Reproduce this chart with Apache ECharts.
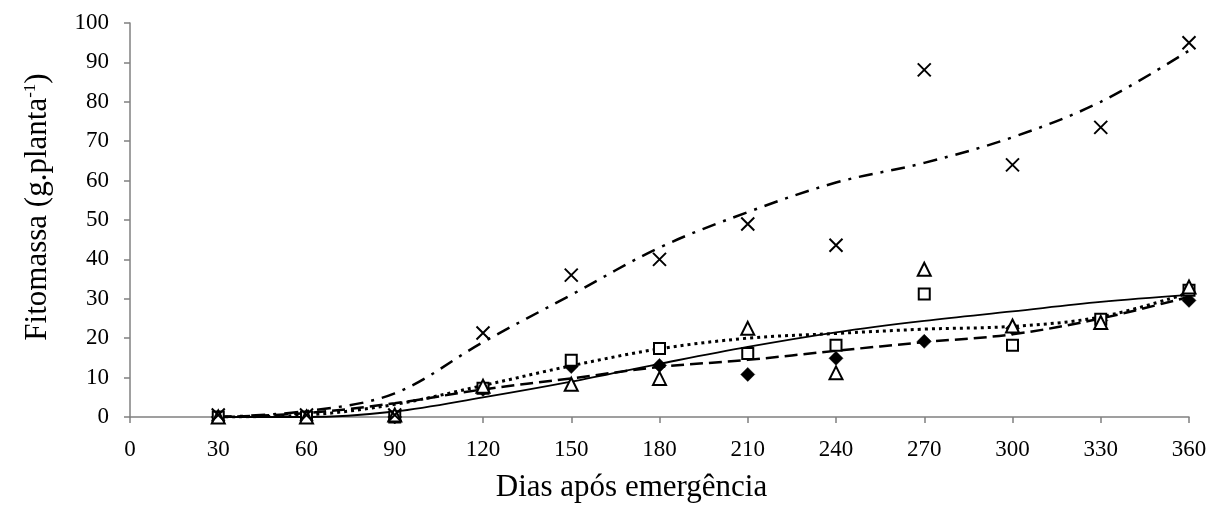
<!DOCTYPE html>
<html>
<head>
<meta charset="utf-8">
<script src="https://cdn.jsdelivr.net/npm/echarts@6/dist/echarts.min.js"></script>
<style>
html,body{margin:0;padding:0;background:#fff;}
#c{width:1215px;height:512px;}
</style>
</head>
<body>
<div id="c"></div>
<script>
// Days after emergence
const days = [30, 60, 90, 120, 150, 180, 210, 240, 270, 300, 330, 360];
// Observed values (markers)
const diamondObs  = [0, 0, 0, 7, 12.8, 13.1, 10.8, 14.9, 19.2, 22.5, 24.5, 29.6];
const squareObs   = [0, 0, 0, 7.3, 14.4, 17.4, 16.1, 18.2, 31.2, 18.2, 24.8, 32.2];
const triangleObs = [0, 0, 0.5, 7.8, 8.3, 9.8, 22.5, 11.2, 37.5, 23.1, 24, 33];
const crossObs    = [0.5, 0.5, 0.5, 21.3, 36, 40, 49, 43.6, 88.1, 64, 73.5, 95];
// Fitted curves
const dashedFit  = [0, 1, 3.5, 7, 9.8, 12.7, 14.5, 16.8, 19, 21, 25, 30.5];
const dottedFit  = [0, 0.5, 3.2, 8, 13, 17.3, 20, 21.2, 22.3, 23, 25.4, 31.5];
const solidFit   = [0, 0, 1.4, 5, 9, 13.5, 17.8, 21.5, 24.4, 26.8, 29.2, 31];
const dashDotFit = [0, 1.5, 6, 19, 31, 43, 52, 59.5, 64.5, 71, 80, 93];
// Axis ticks
const xTicks = [0, 30, 60, 90, 120, 150, 180, 210, 240, 270, 300, 330, 360];
const yTicks = [0, 10, 20, 30, 40, 50, 60, 70, 80, 90, 100];

const pairs = arr => days.map((d, i) => [d, arr[i]]);
const FONT = '"Liberation Serif", "DejaVu Serif", serif';

function lineSeries(arr, type, width) {
  return {
    type: 'line', data: pairs(arr), symbol: 'none', smooth: 0.35,
    lineStyle: {color: '#000', width: width, type: type, cap: 'butt'},
    z: 2, silent: true
  };
}
function scatterSeries(arr, symbol, size, fill, bw) {
  return {
    type: 'scatter', data: pairs(arr), symbol: symbol, symbolSize: size,
    itemStyle: {color: fill, borderColor: '#000', borderWidth: bw, opacity: 1},
    z: 3, silent: true
  };
}

const chart = echarts.init(document.getElementById('c'), null, {renderer: 'canvas'});
chart.setOption({
  animation: false,
  backgroundColor: '#fff',
  grid: {left: 130, right: 26, top: 23, bottom: 95, containLabel: false},
  xAxis: {
    type: 'value', min: xTicks[0], max: xTicks[xTicks.length - 1], interval: 30,
    name: 'Dias após emergência', nameLocation: 'middle', nameGap: 55,
    nameTextStyle: {fontFamily: FONT, fontSize: 31, color: '#000', padding: [0, 56, 0, 0]},
    axisLine: {show: true, onZero: false, lineStyle: {color: '#808080', width: 1.5}},
    axisTick: {show: true, inside: false, length: 6, lineStyle: {color: '#808080', width: 1.5}},
    axisLabel: {fontFamily: FONT, fontSize: 23, color: '#000', margin: 21},
    splitLine: {show: false}
  },
  yAxis: {
    type: 'value', min: yTicks[0], max: yTicks[yTicks.length - 1], interval: 10,
    name: 'Fitomassa (g.planta{sup|-1})', nameLocation: 'middle', nameGap: 77,
    nameRotate: 90,
    nameTextStyle: {fontFamily: FONT, fontSize: 31, color: '#000', padding: [0, 0, 0, 26],
      rich: {sup: {fontFamily: FONT, fontSize: 17, color: '#000', verticalAlign: 'top', padding: [0, 0, 14, 0]}}},
    axisLine: {show: true, lineStyle: {color: '#808080', width: 1.5}},
    axisTick: {show: true, inside: false, length: 6, lineStyle: {color: '#808080', width: 1.5}},
    axisLabel: {fontFamily: FONT, fontSize: 23, color: '#000', margin: 21},
    splitLine: {show: false}
  },
  series: [
    lineSeries(solidFit, 'solid', 1.8),
    lineSeries(dottedFit, [3, 4], 3),
    lineSeries(dashedFit, [13, 6], 2.5),
    lineSeries(dashDotFit, [14, 8, 3, 8], 2.5),
    scatterSeries(diamondObs, 'diamond', 14, '#000', 0.5),
    scatterSeries(squareObs, 'rect', 11, '#fff', 2),
    scatterSeries(triangleObs, 'triangle', 13, '#fff', 2),
    scatterSeries(crossObs, 'path://M0,0L10,10M10,0L0,10', 13, 'none', 2)
  ]
});
</script>
</body>
</html>
